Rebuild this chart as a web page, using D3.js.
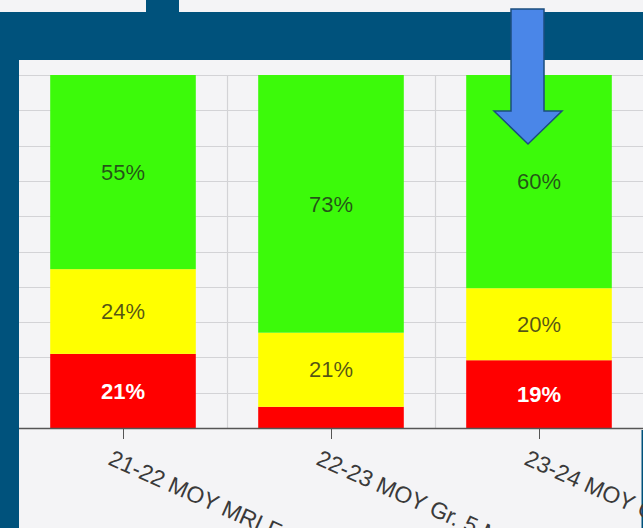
<!DOCTYPE html>
<html>
<head>
<meta charset="utf-8">
<script src="https://cdn.jsdelivr.net/npm/d3@7"></script>
<style>
    html, body { margin: 0; padding: 0; background: #f4f4f6; overflow: hidden; }
    #chart { width: 643px; height: 528px; }
</style>
</head>
<body>
<div id="chart"></div>
<script>
// values (percent of students per band)
var categories = ["21-22 MOY MRI Fall Gr. 4", "22-23 MOY Gr. 5 MRI", "23-24 MOY Gr. 6 MRI"];
var redValues = [21, 6, 19.2];
var yellowValues = [24, 21, 20.4];
var greenValues = [55, 73, 60.4];
var seriesKeys = ["red", "yellow", "green"];
var yTicks = [0, 10, 20, 30, 40, 50, 60, 70, 80, 90, 100];

function StackedBarChart(container){
    this.container = container;
    this.svg = null;
    this.width = 643;
    this.height = 528;

    // plot box inside the dark frame
    this.plot = { left: 19, right: 643, top: 75, bottom: 428 };

    this.axis = {};
    this.axis.x = null;
    this.axis.y = null;

    this.colors = { red: "#ff0000", yellow: "#ffff00", green: "#3cfa0a" };
    this.data = [];
}

StackedBarChart.prototype = {
    constructor: StackedBarChart,

    loadData: function(){
        this.data = [];
        for (let i = 0; i < categories.length; i++){
            this.data.push({
                name: categories[i],
                red: redValues[i],
                yellow: yellowValues[i],
                green: greenValues[i]
            });
        }
    },

    drawFrame: function(){
        var self = this;
        // dark blue frame the chart sits in
        self.svg.append("rect")
            .attr("x", 0).attr("y", 0)
            .attr("width", self.width).attr("height", self.height)
            .attr("fill", "#f4f4f6");
        self.svg.append("rect")
            .attr("x", 146).attr("y", 0)
            .attr("width", 33).attr("height", 14)
            .attr("fill", "#00527c");
        self.svg.append("rect")
            .attr("x", 0).attr("y", 12)
            .attr("width", self.width).attr("height", 48)
            .attr("fill", "#00527c");
        self.svg.append("rect")
            .attr("x", 0).attr("y", 12)
            .attr("width", 19).attr("height", self.height - 12)
            .attr("fill", "#00527c");
        self.svg.append("rect")
            .attr("x", 641.5).attr("y", 430)
            .attr("width", 2).attr("height", 100)
            .attr("fill", "#00527c");
    },

    init: function(){
        var self = this;
        self.loadData();

        self.svg = d3.select(self.container).append("svg")
            .attr("width", self.width)
            .attr("height", self.height)
            .style("display", "block")
            .style("font-family", "'Liberation Sans', Arial, sans-serif");

        self.drawFrame();

        self.axis.x = d3.scaleBand()
            .domain(categories)
            .range([self.plot.left, self.plot.right])
            .paddingInner(0.3)
            .paddingOuter(0.15);
        self.axis.y = d3.scaleLinear()
            .domain([0, 100])
            .range([self.plot.bottom, self.plot.top]);

        var step = self.axis.x.step();

        // horizontal gridlines
        self.svg.append("g")
            .selectAll("line")
            .data(yTicks.slice(1))
            .enter().append("line")
            .attr("x1", self.plot.left)
            .attr("x2", self.plot.right)
            .attr("y1", function(d) { return Math.round(self.axis.y(d)) + 0.5; })
            .attr("y2", function(d) { return Math.round(self.axis.y(d)) + 0.5; })
            .attr("stroke", "#d3d3d6")
            .attr("stroke-width", 1.2);

        // vertical gridlines between categories
        self.svg.append("g")
            .selectAll("line")
            .data(categories.slice(1))
            .enter().append("line")
            .attr("x1", function(d) { return Math.round(self.axis.x(d) - step * 0.15) + 0.5; })
            .attr("x2", function(d) { return Math.round(self.axis.x(d) - step * 0.15) + 0.5; })
            .attr("y1", self.plot.top)
            .attr("y2", self.plot.bottom)
            .attr("stroke", "#d3d3d6")
            .attr("stroke-width", 1.2);

        var stacked = d3.stack().keys(seriesKeys)(self.data);

        var layers = self.svg.append("g")
            .selectAll("g")
            .data(stacked)
            .enter().append("g")
            .attr("fill", function(d) { return self.colors[d.key]; });

        layers.selectAll("rect")
            .data(function(d) { return d; })
            .enter().append("rect")
            .attr("x", function(d) { return self.axis.x(d.data.name); })
            .attr("width", self.axis.x.bandwidth())
            .attr("y", function(d) { return self.axis.y(d[1]); })
            .attr("height", function(d) { return self.axis.y(d[0]) - self.axis.y(d[1]); });

        // percent labels in the middle of each segment
        layers.each(function(layer){
            var key = layer.key;
            d3.select(this).selectAll("text")
                .data(layer.filter(function(d) { return self.axis.y(d[0]) - self.axis.y(d[1]) > 26; }))
                .enter().append("text")
                .attr("x", function(d) { return self.axis.x(d.data.name) + self.axis.x.bandwidth() / 2; })
                .attr("y", function(d) { return (self.axis.y(d[0]) + self.axis.y(d[1])) / 2; })
                .attr("dy", "0.35em")
                .attr("text-anchor", "middle")
                .style("font-size", "22px")
                .style("font-weight", key == "red" ? "bold" : "normal")
                .attr("fill", key == "red" ? "#ffffff" : "#1c1c1c")
                .attr("fill-opacity", key == "red" ? 1 : 0.75)
                .text(function(d) { return Math.round(d.data[key]) + "%"; });
        });

        // x axis
        var xAxis = self.svg.append("g")
            .attr("transform", "translate(0," + self.plot.bottom + ")");
        xAxis.append("line")
            .attr("x1", self.plot.left)
            .attr("x2", self.plot.right)
            .attr("y1", 0.5).attr("y2", 0.5)
            .attr("stroke", "#555")
            .attr("stroke-width", 1.3);

        var ticks = xAxis.selectAll(".tick")
            .data(categories)
            .enter().append("g")
            .attr("class", "tick")
            .attr("transform", function(d) {
                return "translate(" + Math.round(self.axis.x(d) + self.axis.x.bandwidth() / 2) + ",0)";
            });
        ticks.append("line")
            .attr("x1", 0.5).attr("x2", 0.5)
            .attr("y1", 0).attr("y2", 11)
            .attr("stroke", "#555");
        ticks.append("text")
            .attr("transform", "translate(-16,36) rotate(24)")
            .attr("text-anchor", "start")
            .style("font-size", "23px")
            .attr("fill", "#3a3a3a")
            .text(function(d) { return d; });

        // blue arrow pointing at the last bar
        var arrow = [[511, 9], [544, 9], [544, 111], [562, 111], [528, 144], [494, 111], [511, 111]];
        self.svg.append("path")
            .attr("d", d3.line()(arrow) + "Z")
            .attr("fill", "#4a86e8")
            .attr("stroke", "#1b4d7e")
            .attr("stroke-width", 1.5)
            .attr("stroke-linejoin", "miter");
    }
};

var chart = new StackedBarChart("#chart");
chart.init();
</script>
</body>
</html>
